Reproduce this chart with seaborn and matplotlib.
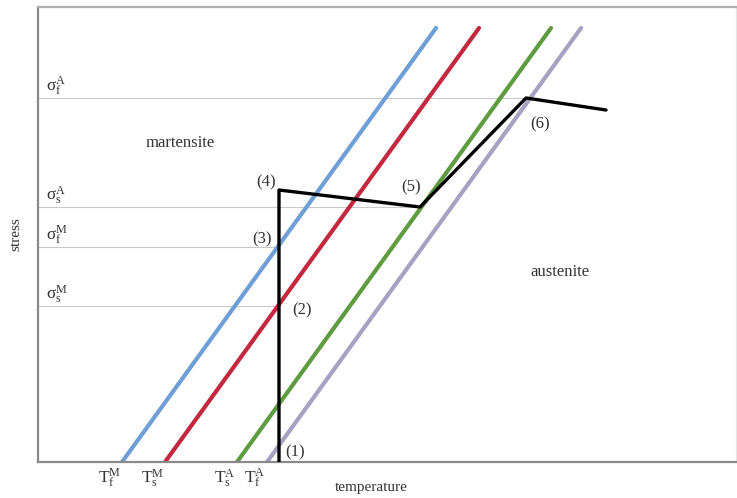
import matplotlib
matplotlib.use("Agg")
import matplotlib.pyplot as plt
import seaborn as sns
import pandas as pd

sns.set_theme(style="white")
plt.rcParams["font.family"] = ["Liberation Serif", "DejaVu Serif"]
plt.rcParams["mathtext.fontset"] = "custom"
plt.rcParams["mathtext.rm"] = "Liberation Serif"
plt.rcParams["mathtext.it"] = "Liberation Serif"

# Transformation temperatures (zero-stress intercepts) and shared slope
line_names = [r"$\mathregular{T_f^M}$", r"$\mathregular{T_s^M}$",
              r"$\mathregular{T_s^A}$", r"$\mathregular{T_f^A}$"]
line_temps = [84, 127, 199, 229]
line_colors = ["#6f9fd6", "#c3283f", "#5f9b40", "#a8a2c2"]
slope = 1.382
stress_top = 434

# Loading path (1) -> (4) -> (5) -> (6) -> end
path_temp = [241, 241, 382, 488, 568]
path_stress = [0, 272, 255, 364, 352]

# Critical stress levels and where their guide lines stop
sigma_names = [r"$\mathregular{σ_s^M}$", r"$\mathregular{σ_f^M}$",
               r"$\mathregular{σ_s^A}$", r"$\mathregular{σ_f^A}$"]
sigma_vals = [156, 215, 255, 364]
sigma_ends = [241, 241, 382, 488]

rows = []
for name, t in zip(line_names, line_temps):
    for s in (0, stress_top):
        rows.append({"line": name, "temperature": t + s / slope, "stress": s})
lines_df = pd.DataFrame(rows)
path_df = pd.DataFrame({"temperature": path_temp, "stress": path_stress})

fig = plt.figure(figsize=(7.37, 4.98), dpi=100)
ax = fig.add_axes([38 / 737, 36 / 498, 698 / 737, 455 / 498])
ax.set_xlim(0, 698)
ax.set_ylim(0, 455)

# guide lines for critical stresses
for v, e in zip(sigma_vals, sigma_ends):
    ax.plot([0, e], [v, v], color="#c9c9c9", lw=0.8, zorder=1)

sns.lineplot(data=lines_df, x="temperature", y="stress", hue="line",
             palette=dict(zip(line_names, line_colors)), lw=3.0,
             legend=False, ax=ax, zorder=2)
sns.lineplot(data=path_df, x="temperature", y="stress", sort=False,
             color="black", lw=2.4, ax=ax, zorder=3, estimator=None)

fs = 12
tc = "#333333"
for name, t in zip(line_names, line_temps):
    ax.text(t - 12, -16, name, ha="center", va="center", fontsize=fs + 0.5, color=tc)

for name, v in zip(sigma_names, sigma_vals):
    ax.text(8, v + 1, name, ha="left", va="bottom", fontsize=fs + 0.5, color=tc)

# point markers along the path
ax.text(path_temp[0] + 16, 10, "(1)", ha="center", va="center", fontsize=fs, color=tc)
ax.text(path_temp[0] + 23, sigma_vals[0] - 4, "(2)", ha="center", va="center", fontsize=fs, color=tc)
ax.text(path_temp[0] - 17, sigma_vals[1] + 8, "(3)", ha="center", va="center", fontsize=fs, color=tc)
ax.text(path_temp[1] - 13, path_stress[1] + 8, "(4)", ha="center", va="center", fontsize=fs, color=tc)
ax.text(path_temp[2] - 9, path_stress[2] + 20, "(5)", ha="center", va="center", fontsize=fs, color=tc)
ax.text(path_temp[3] + 14, path_stress[3] - 26, "(6)", ha="center", va="center", fontsize=fs, color=tc)

ax.text(142, 319, "martensite", ha="center", va="center", fontsize=fs, color=tc)
ax.text(522, 190, "austenite", ha="center", va="center", fontsize=fs, color=tc)

ax.set_xlabel("temperature", fontsize=11, color=tc)
ax.set_ylabel("stress", fontsize=11, color=tc)
ax.xaxis.set_label_coords(0.477, -0.042)
ax.yaxis.set_label_coords(-0.022, 0.5)
ax.set_xticks([])
ax.set_yticks([])

for side in ("left", "bottom"):
    ax.spines[side].set_color("#8a8a8a")
    ax.spines[side].set_linewidth(1.6)
ax.spines["top"].set_color("#b0b0b0")
ax.spines["top"].set_linewidth(1.6)
ax.spines["right"].set_color("#e6e6e6")
ax.spines["right"].set_linewidth(1.0)

fig.savefig("out.png", dpi=100)
